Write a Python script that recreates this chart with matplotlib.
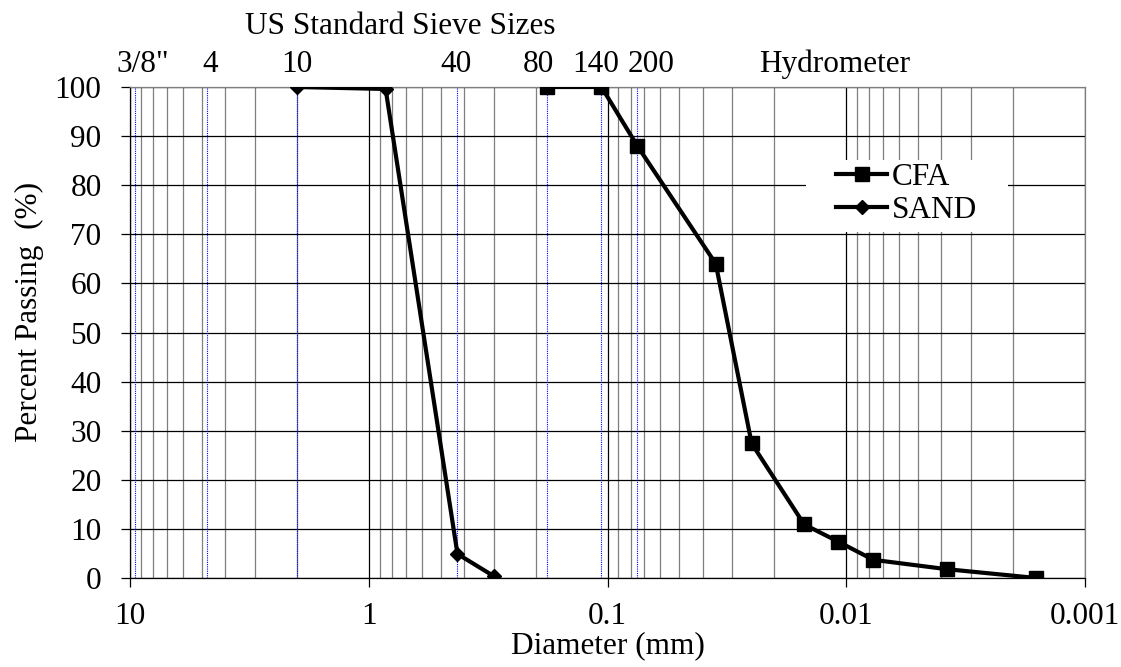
import numpy as np
import matplotlib.pyplot as plt
from matplotlib import ticker, transforms
from matplotlib.lines import Line2D
from matplotlib.patches import Rectangle

# grain size distributions: diameter (mm) vs percent passing
cfa_d = [0.18, 0.106, 0.075, 0.0352, 0.0249, 0.0150, 0.0108, 0.0077, 0.0038, 0.0016]
cfa_p = [100, 100, 88, 64, 27.4, 10.9, 7.4, 3.7, 1.8, 0]
sand_d = [2.0, 0.85, 0.425, 0.30]
sand_p = [100, 99.6, 4.9, 0.4]

# US standard sieves shown along the top
sieve_names = ['3/8"', '4', '10', '40', '80', '140', '200']
sieve_mm = [9.5, 4.75, 2.0, 0.425, 0.18, 0.106, 0.075]

x_ticks = [10, 1, 0.1, 0.01, 0.001]
x_ticklabels = ['10', '1', '0.1', '0.01', '0.001']
y_ticks = list(range(0, 101, 10))

# label placement along the top (diameter where each label is centred)
sieve_label_x = [8.85, 4.6, 2.0, 0.432, 0.194, 0.1117, 0.0654]
hydro_label_x = 0.01114

plt.rcParams['font.family'] = ['Liberation Serif', 'DejaVu Serif']
plt.rcParams['font.size'] = 22.5

W, H = 1121, 667
fig = plt.figure(figsize=(W / 100, H / 100), dpi=100)
ax = fig.add_axes([130 / W, 1 - 578 / H, 955 / W, 491 / H])

ax.set_xscale('log')
ax.set_xlim(10, 0.001)
ax.set_ylim(0, 100)
ax.set_xticks(x_ticks)
ax.set_xticklabels(x_ticklabels)
ax.xaxis.set_minor_locator(ticker.LogLocator(base=10, subs=np.arange(2, 10), numticks=20))
ax.xaxis.set_minor_formatter(ticker.NullFormatter())
ax.set_yticks(y_ticks)

ax.grid(which='major', axis='both', color='black', lw=0.9)
ax.grid(which='minor', axis='x', color='#7f7f7f', lw=0.9)
ax.tick_params(which='major', direction='out', length=6.5, width=0.9, color='black')
ax.tick_params(axis='x', which='major', pad=10.5)
ax.tick_params(axis='y', which='major', pad=14)
ax.tick_params(which='minor', length=0)

for side in ['top', 'right']:
    ax.spines[side].set_color('#7f7f7f')
for side in ['left', 'bottom']:
    ax.spines[side].set_color('black')
for sp in ax.spines.values():
    sp.set_linewidth(0.9)

# sieve openings
for d in sieve_mm:
    ax.axvline(d, color='#0000ff', lw=0.8, ls=(0, (1, 1)), zorder=1.6)

ax.plot(cfa_d, cfa_p, color='black', lw=3, marker='s', ms=10, zorder=3)
ax.plot(sand_d, sand_p, color='black', lw=3, marker='D', ms=7, zorder=3)

# white patch behind the legend
ax.add_patch(Rectangle((0.708, 0.705), 0.211, 0.146, transform=ax.transAxes,
                       facecolor='white', edgecolor='none', zorder=1.9))
handles = [Line2D([], [], color='black', lw=3, marker='s', ms=10),
           Line2D([], [], color='black', lw=3, marker='D', ms=7)]
ax.legend(handles, ['CFA', 'SAND'], loc='upper left', bbox_to_anchor=(0.739, 0.845),
          frameon=False, borderpad=0, borderaxespad=0, handlelength=1.65,
          handletextpad=0.15, labelspacing=0.12)

ax.set_xlabel('Diameter (mm)')
ax.set_ylabel('Percent Passing  (%)')
ax.xaxis.set_label_coords(0.5, -0.108)
ax.yaxis.set_label_coords(-0.09, 0.542)

top = transforms.blended_transform_factory(ax.transData, fig.transFigure)
for name, x in zip(sieve_names, sieve_label_x):
    ax.text(x, 1 - 72 / H, name, transform=top, ha='center', va='baseline')
ax.text(hydro_label_x, 1 - 72 / H, 'Hydrometer', transform=top, ha='center', va='baseline')
fig.text(400 / W, 1 - 34 / H, 'US Standard Sieve Sizes', ha='center', va='baseline')

fig.savefig('out.png', dpi=100)
